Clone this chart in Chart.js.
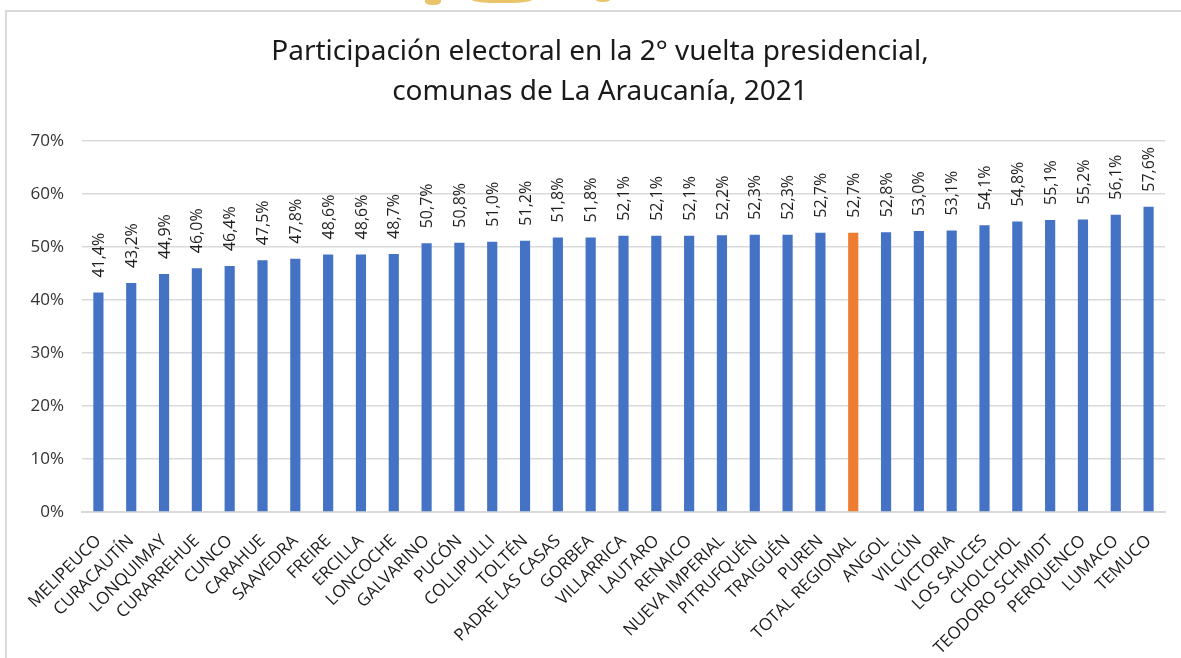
<!DOCTYPE html>
<html>
<head>
<meta charset="utf-8">
<script src="https://cdn.jsdelivr.net/npm/chart.js@4"></script>
<style>
    html, body { margin: 0; padding: 0; background: #ffffff; }
    #wrap { position: relative; width: 1181px; height: 658px; overflow: hidden; }
    #frame {
        position: absolute; left: 5px; top: 10px; right: -5px; bottom: -5px;
        border-left: 2px solid #d9d9d9; border-top: 2px solid #d9d9d9;
    }
    .blob { position: absolute; background: #eac46a; border-radius: 40%; }
    #chart { position: absolute; left: 0; top: 0; }
</style>
</head>
<body>
<div id="wrap">
    <div class="blob" style="left:425px;top:-4px;width:16px;height:9px;"></div>
    <div class="blob" style="left:472px;top:-5px;width:60px;height:8px;"></div>
    <div class="blob" style="left:596px;top:-4px;width:14px;height:6px;"></div>
    <div id="frame"></div>
    <canvas id="chart" width="1181" height="658"></canvas>
</div>
<script>
/* ===============================
   DATA
================================ */
const comunas = [
    "MELIPEUCO", "CURACAUTÍN", "LONQUIMAY", "CURARREHUE", "CUNCO", "CARAHUE",
    "SAAVEDRA", "FREIRE", "ERCILLA", "LONCOCHE", "GALVARINO", "PUCÓN",
    "COLLIPULLI", "TOLTÉN", "PADRE LAS CASAS", "GORBEA", "VILLARRICA", "LAUTARO",
    "RENAICO", "NUEVA IMPERIAL", "PITRUFQUÉN", "TRAIGUÉN", "PUREN", "TOTAL REGIONAL",
    "ANGOL", "VILCÚN", "VICTORIA", "LOS SAUCES", "CHOLCHOL", "TEODORO SCHMIDT",
    "PERQUENCO", "LUMACO", "TEMUCO"
];

const participacion = [
    41.4, 43.2, 44.9, 46.0, 46.4, 47.5,
    47.8, 48.6, 48.6, 48.7, 50.7, 50.8,
    51.0, 51.2, 51.8, 51.8, 52.1, 52.1,
    52.1, 52.2, 52.3, 52.3, 52.7, 52.7,
    52.8, 53.0, 53.1, 54.1, 54.8, 55.1,
    55.2, 56.1, 57.6
];

const yTicks = [0, 10, 20, 30, 40, 50, 60, 70];

const titleLines = [
    "Participación electoral en la 2° vuelta presidencial,",
    "comunas de La Araucanía, 2021"
];

const BLUE = "#4472c4";
const ORANGE = "#ed7d31";

function fmt(v) {
    return v.toFixed(1).replace(".", ",") + "%";
}

/* ===============================
   TITLE (centred on the frame, not the plot)
================================ */
const frameTitle = {
    id: "frameTitle",
    afterDraw(chart) {
        const ctx = chart.ctx;
        ctx.save();
        ctx.fillStyle = "#1a1a1a";
        ctx.font = "28px 'Noto Sans'";
        ctx.textAlign = "center";
        ctx.textBaseline = "middle";
        titleLines.forEach((line, i) => ctx.fillText(line, 600, 52 + i * 40));
        ctx.restore();
    }
};

/* ===============================
   VALUE LABELS (rotated)
================================ */
const valueLabels = {
    id: "valueLabels",
    afterDatasetsDraw(chart) {
        const ctx = chart.ctx;
        const meta = chart.getDatasetMeta(0);
        ctx.save();
        ctx.fillStyle = "#1f1f1f";
        ctx.font = "16px 'Open Sans'";
        ctx.textAlign = "left";
        ctx.textBaseline = "middle";
        meta.data.forEach((bar, i) => {
            ctx.save();
            ctx.translate(bar.x + 1, bar.y - 15);
            ctx.rotate(-Math.PI / 2);
            ctx.fillText(fmt(participacion[i]), 0, 0);
            ctx.restore();
        });
        ctx.restore();
    }
};

new Chart(document.getElementById("chart"), {
    type: "bar",
    data: {
        labels: comunas,
        datasets: [{
            data: participacion,
            backgroundColor: comunas.map(c => c === "TOTAL REGIONAL" ? ORANGE : BLUE),
            barPercentage: 0.31,
            categoryPercentage: 1.0
        }]
    },
    options: {
        responsive: false,
        animation: false,
        layout: { padding: { left: 10, right: 16, top: 141, bottom: 0 } },
        plugins: {
            legend: { display: false },
            tooltip: { enabled: false },
            title: { display: false }
        },
        scales: {
            x: {
                grid: { display: false },
                border: { color: "#d9d9d9", width: 2 },
                ticks: {
                    color: "#1a1a1a",
                    font: { family: "'Open Sans'", size: 17 },
                    maxRotation: 45,
                    minRotation: 45,
                    autoSkip: false,
                    padding: 11
                },
                afterFit(scale) { scale.height = 146; }
            },
            y: {
                min: 0,
                max: 70,
                afterBuildTicks(scale) { scale.ticks = yTicks.map(v => ({ value: v })); },
                grid: { color: "#d9d9d9", lineWidth: 1.5, drawTicks: false },
                border: { display: false },
                ticks: {
                    color: "#333333",
                    font: { family: "'Open Sans'", size: 17 },
                    padding: 18,
                    callback: v => v + "%"
                },
                afterFit(scale) { scale.width = 72; }
            }
        }
    },
    plugins: [valueLabels, frameTitle]
});
</script>
</body>
</html>
